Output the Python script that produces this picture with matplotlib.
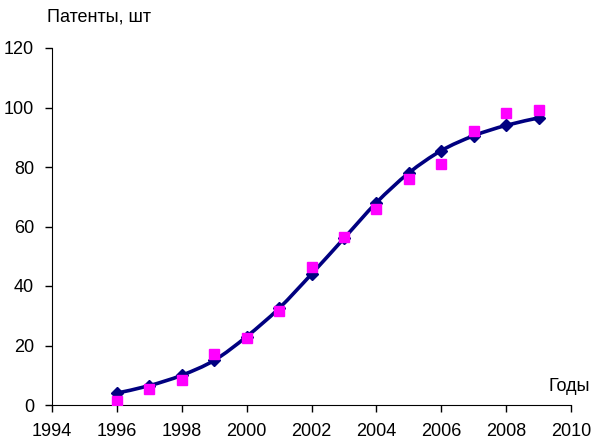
import matplotlib
matplotlib.use("Agg")
import matplotlib.pyplot as plt
from matplotlib.path import Path
from matplotlib.patches import PathPatch

plt.rcParams["font.family"] = ["Liberation Sans", "DejaVu Sans"]

# data
years = [1996, 1997, 1998, 1999, 2000, 2001, 2002, 2003, 2004, 2005, 2006, 2007, 2008, 2009]
model = [4, 6.5, 10, 15, 23, 32.5, 44, 56, 68, 78, 85.5, 90.5, 94, 96.5]
actual = [1.5, 5.5, 8.5, 17, 22.5, 31.5, 46.5, 56.5, 66, 76, 81, 92, 98, 99]


def smooth_path(x, y):
    # Excel-style smoothed line: cubic Bezier segments (Catmull-Rom tangents)
    verts = [(x[0], y[0])]
    codes = [Path.MOVETO]
    n = len(x)
    for i in range(n - 1):
        x0, y0 = (x[i - 1], y[i - 1]) if i > 0 else (x[i], y[i])
        x3, y3 = (x[i + 2], y[i + 2]) if i + 2 < n else (x[i + 1], y[i + 1])
        c1 = (x[i] + (x[i + 1] - x0) / 6, y[i] + (y[i + 1] - y0) / 6)
        c2 = (x[i + 1] - (x3 - x[i]) / 6, y[i + 1] - (y3 - y[i]) / 6)
        verts += [c1, c2, (x[i + 1], y[i + 1])]
        codes += [Path.CURVE4] * 3
    return Path(verts, codes)


fig = plt.figure(figsize=(5.91, 4.41), dpi=100)
ax = fig.add_axes([52 / 591, 36 / 441, 519 / 591, 357 / 441])

ax.add_patch(PathPatch(smooth_path(years, model), facecolor="none",
                       edgecolor="#000080", lw=2.6, zorder=2))
ax.plot(years, model, linestyle="none", marker="D", ms=6.5,
        color="#000080", zorder=3)
ax.plot(years, actual, linestyle="none", marker="s", ms=7.5,
        color="#FF00FF", zorder=4)

ax.set_xlim(1994, 2010)
ax.set_ylim(0, 120)
ax.set_xticks(range(1994, 2011, 2))
ax.set_yticks(range(0, 121, 20))
ax.tick_params(labelsize=13, direction="out", length=5, width=1, pad=8)
for s in ["top", "right"]:
    ax.spines[s].set_visible(False)

fig.text(47 / 591, 1 - 22 / 441, "Патенты, шт", fontsize=13, ha="left", va="baseline")
fig.text(590 / 591, 1 - 391 / 441, "Годы", fontsize=13, ha="right", va="baseline")

fig.savefig("out.png", dpi=100)
